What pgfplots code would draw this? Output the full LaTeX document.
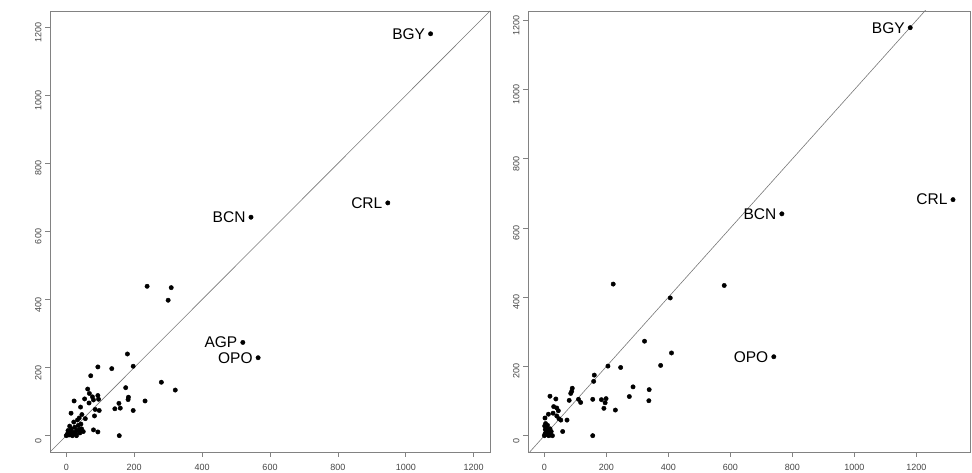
\documentclass[border=0pt]{standalone}
\usepackage{pgfplots}
\pgfplotsset{compat=1.18}
\usepackage{pgfplotstable}
\usepackage{fontspec}
\setmainfont{Liberation Sans}
\definecolor{boxgray}{RGB}{130,130,130}
\definecolor{tickgray}{RGB}{70,70,70}
\definecolor{linegray}{RGB}{120,120,120}

\pgfplotstableread{
x y
238 439
309 435
300 398
180 240
280 157
321 134
232 102
197 204
134 197
93 202
72 176
175 141
183 113
182 106
155 95
159 81
143 79
197 74
156 0
93 11
80 17
63 137
68 124
93 118
95 107
77 114
54 108
67 96
80 105
23 102
97 74
85 77
42 84
83 58
14 66
46 62
38 52
33 46
56 50
43 34
0 0
2 3
5 8
8 2
10 12
12 5
15 20
18 0
20 10
25 25
28 5
30 15
35 30
40 8
45 20
22 40
10 28
5 15
15 2
30 0
50 12
38 18
}\leftpts

\pgfplotstableread{
x y label
1073 1181 BGY
947 684 CRL
544 642 BCN
520 274 AGP
565 229 OPO
}\leftlab

\pgfplotstableread{
x y
222 438
580 434
406 398
323 273
410 239
375 203
205 201
246 197
161 175
159 157
286 141
338 133
274 113
337 101
229 74
192 79
196 95
184 104
199 107
156 105
110 105
117 96
90 137
88 128
85 122
80 102
18 114
37 106
30 84
40 80
45 72
28 65
13 62
2 51
40 57
47 49
53 45
73 45
59 12
156 0
26 0
0 0
2 5
5 10
8 3
3 18
6 25
10 30
4 35
12 15
15 8
18 20
20 2
9 12
1 28
14 0
22 12
}\rightpts

\pgfplotstableread{
x y label
1180 1179 BGY
1318 682 CRL
766 641 BCN
740 228 OPO
}\rightlab

\pgfplotsset{rstyle/.style={
  scale only axis,
  anchor=south west,
  axis line style={boxgray, line width=0.8pt},
  tick style={boxgray, line width=0.8pt},
  tick align=outside,
  major tick length=5pt,
  xtick={0,200,...,1200}, ytick={0,200,...,1200},
  xtick pos=bottom, ytick pos=left,
  ticklabel style={font=\fontsize{9}{10}\selectfont, text=tickgray},
  /pgf/number format/assume math mode=true,
  /pgf/number format/1000 sep={},
  xticklabel style={yshift=-4pt},
  yticklabel style={rotate=90, anchor=south, xshift=-5pt},
  clip=true,
}}

\begin{document}
\begin{tikzpicture}
\path[use as bounding box] (0,0) rectangle (972pt,473pt);
\begin{axis}[rstyle, at={(50pt,21pt)}, width=440pt, height=441pt,
  xmin=-48, xmax=1248, ymin=-48, ymax=1248]
\addplot[linegray, line width=0.6pt] coordinates {(-100,-100) (1500,1500)};
\addplot[only marks, mark=*, mark size=2.2pt, black] table[x=x,y=y] {\leftpts};
\addplot[only marks, mark=*, mark size=2.2pt, black,
  nodes near coords, point meta=explicit symbolic,
  every node near coord/.style={anchor=east, xshift=-2pt, font=\fontsize{15.5}{17}\selectfont, text=black}]
  table[x=x,y=y,meta=label] {\leftlab};
\end{axis}
\begin{axis}[rstyle, at={(528pt,21pt)}, width=442pt, height=441pt,
  xmin=-52.8, xmax=1372.8, ymin=-47.2, ymax=1227.2]
\addplot[linegray, line width=0.6pt] coordinates {(-100,-100) (1500,1500)};
\addplot[only marks, mark=*, mark size=2.2pt, black] table[x=x,y=y] {\rightpts};
\addplot[only marks, mark=*, mark size=2.2pt, black,
  nodes near coords, point meta=explicit symbolic,
  every node near coord/.style={anchor=east, xshift=-2pt, font=\fontsize{15.5}{17}\selectfont, text=black}]
  table[x=x,y=y,meta=label] {\rightlab};
\end{axis}
\end{tikzpicture}
\end{document}
